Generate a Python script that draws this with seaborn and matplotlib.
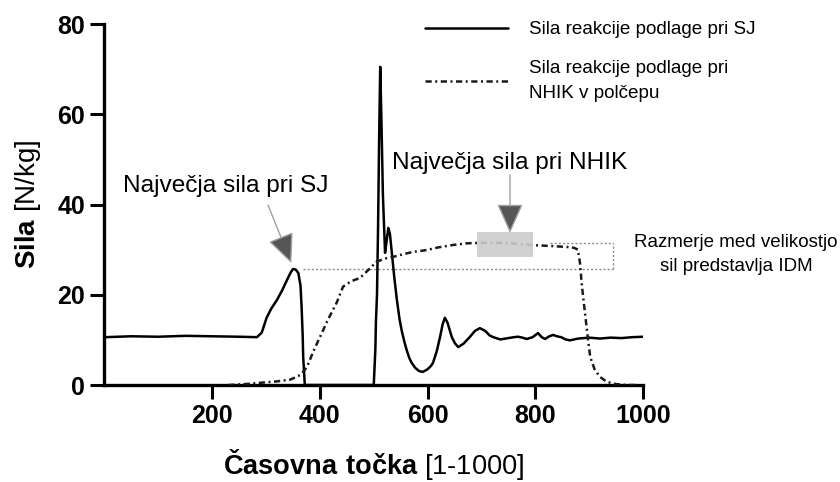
import numpy as np
import pandas as pd
import seaborn as sns
import matplotlib.pyplot as plt
from matplotlib.lines import Line2D
from matplotlib.patches import Rectangle

# Ground reaction force during the squat jump (SJ)
sj_t = [1, 50, 100, 150, 200, 250, 283, 292, 301, 310, 320, 330, 339, 346, 350,
        355, 360, 364, 366, 368, 369, 371, 372, 380, 450, 500, 503, 504, 506,
        508, 510, 512, 514, 517, 521, 524, 527, 530, 533, 538, 543, 548, 552,
        557, 561, 566, 570, 577, 584, 591, 600, 606, 610, 617, 623, 628, 632,
        637, 641, 645, 651, 657, 667, 678, 688, 697, 707, 715, 722, 735, 750,
        760, 768, 776, 784, 795, 805, 812, 818, 826, 833, 840, 848, 856, 864,
        880, 900, 920, 940, 960, 980, 1000]
sj_f = [10.6, 10.8, 10.7, 10.9, 10.8, 10.7, 10.6, 11.6, 14.9, 17.0, 18.8, 21.0,
        23.3, 25.0, 25.7, 25.6, 24.8, 22.0, 17.3, 11.0, 6.2, 2.0, 0.0, 0.0, 0.0,
        0.0, 8.0, 13.8, 20.0, 35.0, 55.0, 70.5, 60.0, 42.0, 29.3, 32.0, 34.8,
        33.5, 30.0, 24.0, 18.8, 14.5, 12.0, 9.5, 7.8, 6.0, 5.0, 3.8, 3.1, 2.9,
        3.5, 4.2, 4.9, 7.5, 10.6, 13.5, 14.9, 13.8, 12.2, 10.6, 9.2, 8.4, 9.2,
        10.6, 12.0, 12.6, 12.0, 11.0, 10.6, 10.1, 10.4, 10.6, 10.7, 10.5, 10.2,
        10.6, 11.5, 10.6, 10.2, 10.8, 11.1, 10.8, 10.6, 10.1, 9.9, 10.3, 10.5,
        10.3, 10.5, 10.4, 10.6, 10.7]

# Ground reaction force during the isometric half-squat (NHIK v polčepu)
nhik_t = [230, 260, 290, 320, 345, 360, 367, 376, 388, 400, 415, 431, 443, 458,
          474, 490, 505, 520, 536, 555, 573, 598, 620, 645, 673, 700, 734, 765,
          796, 830, 858, 872, 879, 883, 886, 893, 898, 902, 910, 920, 933, 950,
          970, 990]
nhik_f = [0.0, 0.2, 0.5, 0.8, 1.2, 2.0, 2.6, 4.0, 7.5, 10.6, 14.5, 18.2, 21.8,
          23.0, 23.7, 25.5, 27.3, 28.0, 28.4, 29.0, 29.5, 29.9, 30.5, 31.0,
          31.4, 31.5, 31.5, 31.3, 31.0, 30.8, 30.6, 30.4, 30.0, 27.0, 22.6,
          15.1, 10.0, 6.2, 3.5, 1.8, 0.7, 0.2, 0.0, 0.0]

x_ticks = [200, 400, 600, 800, 1000]
y_ticks = [0, 20, 40, 60, 80]

legend_labels = ["Sila reakcije podlage pri SJ",
                 "Sila reakcije podlage pri\nNHIK v polčepu"]

sns.set_theme(style="ticks")
plt.rcParams["font.family"] = ["Liberation Sans", "DejaVu Sans"]
plt.rcParams["mathtext.fontset"] = "custom"
plt.rcParams["mathtext.rm"] = "Liberation Sans"
plt.rcParams["mathtext.bf"] = "Liberation Sans:bold"
plt.rcParams["text.color"] = "black"
plt.rcParams["axes.labelcolor"] = "black"

fig, ax = plt.subplots(figsize=(8.4, 4.82), dpi=100)
fig.subplots_adjust(left=0.1244, right=0.7655, bottom=0.2012, top=0.9502)

dash_dot = (0, (2.5, 1.4, 0.8, 1.4))

sj = pd.DataFrame({"t": sj_t, "f": sj_f})
nhik = pd.DataFrame({"t": nhik_t, "f": nhik_f})

sns.lineplot(data=sj, x="t", y="f", estimator=None, sort=False,
             color="black", lw=1.8, ax=ax, zorder=3)
sns.lineplot(data=nhik, x="t", y="f", estimator=None, sort=False,
             color="#1a1a1a", lw=1.8, linestyle=dash_dot, ax=ax, zorder=3)

# Bracket connecting the two maxima (ratio -> IDM)
sj_peak = sj.loc[sj["t"] < 400, "f"].max()
nhik_peak = nhik["f"].max()
box_kw = dict(color="#8c8c8c", lw=1.0, linestyle=(0, (1.5, 1.5)), zorder=2)
ax.plot([369, 945], [sj_peak, sj_peak], **box_kw)
ax.plot([827, 945], [nhik_peak, nhik_peak], **box_kw)
ax.plot([945, 945], [sj_peak, nhik_peak], **box_kw)

# Highlight of the isometric plateau maximum
ax.add_patch(Rectangle((691, 28.4), 105, 5.5, facecolor="#cccccc",
                       edgecolor="none", alpha=0.9, zorder=4))

arrow_kw = dict(arrowstyle="-|>,head_length=18.5,head_width=8.3",
                mutation_scale=1, ec="#a0a0a0", fc="#565656", lw=1.0,
                shrinkA=0, shrinkB=0)
ax.annotate("", xy=(347, 27.0), xytext=(303.6, 39.9), arrowprops=arrow_kw,
            zorder=5)
ax.annotate("", xy=(753, 33.7), xytext=(753, 46.6), arrowprops=arrow_kw,
            zorder=5)

ax.text(34.4, 42.8, "Največja sila pri SJ", fontsize=17.6, ha="left",
        va="baseline")
ax.text(534, 47.9, "Največja sila pri NHIK", fontsize=17.6, ha="left",
        va="baseline")
ax.text(1173, 29.0, "Razmerje med velikostjo\nsil predstavlja IDM",
        fontsize=13.5, ha="center", va="center", clip_on=False,
        linespacing=1.55)

handles = [Line2D([], [], color="black", lw=1.8),
           Line2D([], [], color="#1a1a1a", lw=1.8, linestyle=dash_dot)]
leg = ax.legend(handles, legend_labels, loc="upper left",
                bbox_to_anchor=(425 / 840, 1 - 21 / 482),
                bbox_transform=fig.transFigure, frameon=False, fontsize=13.6,
                handlelength=4.37, handletextpad=1.16, labelspacing=1.15,
                borderpad=0, borderaxespad=0)
for t in leg.get_texts():
    t.set_linespacing(1.62)

ax.set_xlim(0, 1000)
ax.set_ylim(0, 80)
ax.set_xticks(x_ticks)
ax.set_yticks(y_ticks)
ax.tick_params(axis="both", length=10, width=2.2, labelsize=18, pad=4,
               color="black", labelcolor="black")
for lab in ax.get_xticklabels() + ax.get_yticklabels():
    lab.set_fontweight("bold")

for side in ["left", "bottom"]:
    ax.spines[side].set_linewidth(2.4)
    ax.spines[side].set_color("black")
sns.despine(ax=ax)

ax.set_xlabel(r"$\mathbf{Časovna\ točka}$ [1-1000]", fontsize=19.6,
              labelpad=13)
ax.set_ylabel(r"$\mathbf{Sila}$ [N/kg]", fontsize=20, labelpad=10)

fig.savefig("out.png", dpi=100)
